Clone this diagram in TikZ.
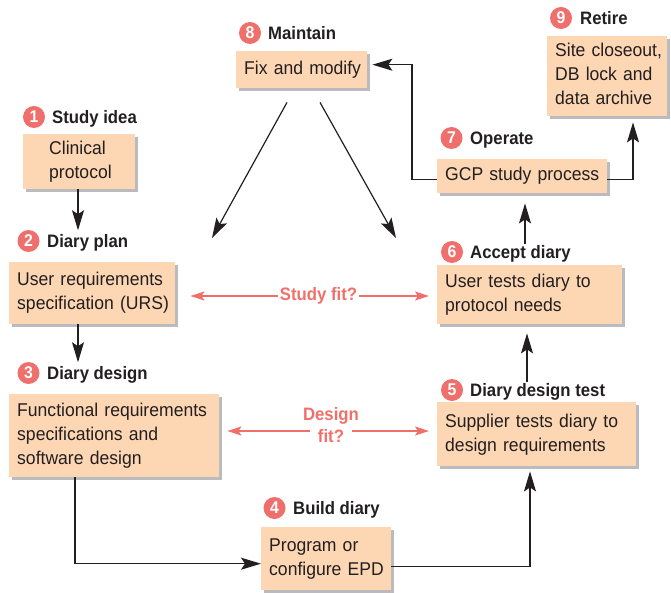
\documentclass[tikz,border=0pt]{standalone}
\usepackage{fontspec}
\setmainfont{Liberation Sans}[FakeStretch=0.95]
\newfontfamily\condfont{Liberation Sans}[FakeStretch=0.93]
\usetikzlibrary{arrows.meta,shadows,calc}
\definecolor{peach}{HTML}{FDD6B3}
\definecolor{shadowgray}{HTML}{BBBBBF}
\definecolor{dotred}{HTML}{EE6F6B}
\definecolor{fitred}{HTML}{F07069}
\definecolor{ink}{HTML}{231F20}
% left-aligned lines that never wrap inside a box
\newcommand\boxlines[1]{\noindent\begin{tabular}{@{}l@{}}#1\end{tabular}}
\tikzset{
  box/.style={fill=peach, draw=none, anchor=north west, inner xsep=8pt, inner ysep=3pt,
    align=left, text=ink, font=\fontsize{18.5}{24}\selectfont,
    drop shadow={shadow xshift=3pt, shadow yshift=-3pt, fill=shadowgray, opacity=1}},
  numdot/.style={circle, fill=dotred, text=white, inner sep=0pt, minimum size=22pt,
    font=\condfont\bfseries\fontsize{17}{17}\selectfont},
  ttl/.style={anchor=base west, inner sep=0pt, text=ink,
    font=\condfont\bfseries\fontsize{18}{22}\selectfont},
  arr/.style={draw=ink, line width=1.2pt, -{Stealth[length=20pt,width=12pt,inset=4pt]}},
  fitarr/.style={draw=fitred, line width=1.4pt, -{Stealth[length=14pt,width=9pt,inset=3pt]}},
  fitlbl/.style={text=fitred, inner xsep=2pt, inner ysep=0pt, align=center,
    font=\condfont\bfseries\fontsize{18}{22}\selectfont},
}
\begin{document}
\begin{tikzpicture}[x=1pt,y=-1pt]
\useasboundingbox (0,0) rectangle (671,593);

% process boxes
\node[box, inner xsep=26pt, text width=60pt, minimum height=55pt] (b1) at (23,134) {\boxlines{Clinical\\protocol}};
\node[box, text width=150pt, minimum height=62pt] (b2) at (9,262) {\boxlines{User requirements\\specification (URS)}};
\node[box, text width=194pt, minimum height=83pt] (b3) at (9,394) {\boxlines{Functional requirements\\specifications and\\software design}};
\node[box, text width=114pt, minimum height=63pt] (b4) at (261,527) {\boxlines{Program or\\configure EPD}};
\node[box, text width=183pt, minimum height=64pt] (b5) at (437,402) {\boxlines{Supplier tests diary to\\design requirements}};
\node[box, text width=169pt, minimum height=59pt] (b6) at (437,265) {\boxlines{User tests diary to\\protocol needs}};
\node[box, text width=154pt, minimum height=34pt] (b7) at (437,159) {\boxlines{GCP study process}};
\node[box, text width=115pt, minimum height=37pt] (b8) at (236,51) {\boxlines{Fix and modify}};
\node[box, text width=104pt, minimum height=80pt] (b9) at (547,36) {\boxlines{Site closeout,\\DB lock and\\data archive}};

% step titles with numbered dots
\node[numdot] (n1) at (34,117) {1};   \node[ttl] (t1) at (52,123.5) {Study idea};
\node[numdot] (n2) at (28.5,241) {2}; \node[ttl] (t2) at (47,247.5) {Diary plan};
\node[numdot] (n3) at (28.5,373) {3}; \node[ttl] (t3) at (47,379.5) {Diary design};
\node[numdot] (n4) at (274.5,508) {4};\node[ttl] (t4) at (293,514.5) {Build diary};
\node[numdot] (n5) at (452,390) {5};  \node[ttl] (t5) at (470,396.5) {Diary design test};
\node[numdot] (n6) at (452,252) {6};  \node[ttl] (t6) at (470,258.5) {Accept diary};
\node[numdot] (n7) at (451.5,138) {7};\node[ttl] (t7) at (470,144.5) {Operate};
\node[numdot] (n8) at (250,33) {8};   \node[ttl] (t8) at (268,39.5) {Maintain};
\node[numdot] (n9) at (561,18) {9};   \node[ttl] (t9) at (580,24.5) {Retire};

% flow connectors
\coordinate (xl) at (78,0);
\coordinate (xr) at (527,0);
\coordinate (xo) at (525,0);
\draw[arr, shorten >=4pt] (xl |- b1.south) -- (xl |- t2.north);
\draw[arr, shorten >=4pt] (xl |- b2.south) -- (xl |- t3.north);
\draw[arr] ($(b3.south west)+(66,0)$) |- ($(b4.west)+(0,5)$);
\draw[arr, shorten >=5pt] ($(b4.east)+(0,8)$) -| ($(b5.south west)+(93,0)$);
\draw[arr, shorten >=9pt, shorten <=1pt] (xr |- t5.north) -- (xr |- b6.south);
\draw[arr, shorten >=10pt, shorten <=1pt] (xo |- t6.north) -- (xo |- b7.south);
\draw[arr, shorten >=5pt] ($(b7.west)+(0,3)$) -- ++(-25,0) |- ($(b8.east)+(0,-5)$);
\draw[arr, shorten >=6pt] ($(b7.east)+(0,3)$) -| ($(b9.south west)+(86,0)$);

% maintenance feeds back into planning and acceptance
\coordinate (dl) at (212,238);
\coordinate (dr) at (396,238);
\draw[arr] ($(b8.south west)+(51,14)$) -- (dl);
\draw[arr] ($(b8.south west)+(84,14)$) -- (dr);

% fit checks
\node[fitlbl] (sfit) at (318.5,296) {Study fit?};
\draw[fitarr, shorten >=15pt] (sfit.west) -- (b2.east |- sfit.west);
\draw[fitarr, shorten >=8pt] (sfit.east) -- (b6.west |- sfit.east);
\node[fitlbl] (dfit) at (331,425) {Design\\fit?};
\coordinate (dfl) at ($(dfit.center)+(-21,6)$);
\coordinate (dfr) at ($(dfit.center)+(21,6)$);
\draw[fitarr, shorten >=8pt] (dfl) -- (b3.east |- dfl);
\draw[fitarr, shorten >=8pt] (dfr) -- (b5.west |- dfr);
\end{tikzpicture}
\end{document}
